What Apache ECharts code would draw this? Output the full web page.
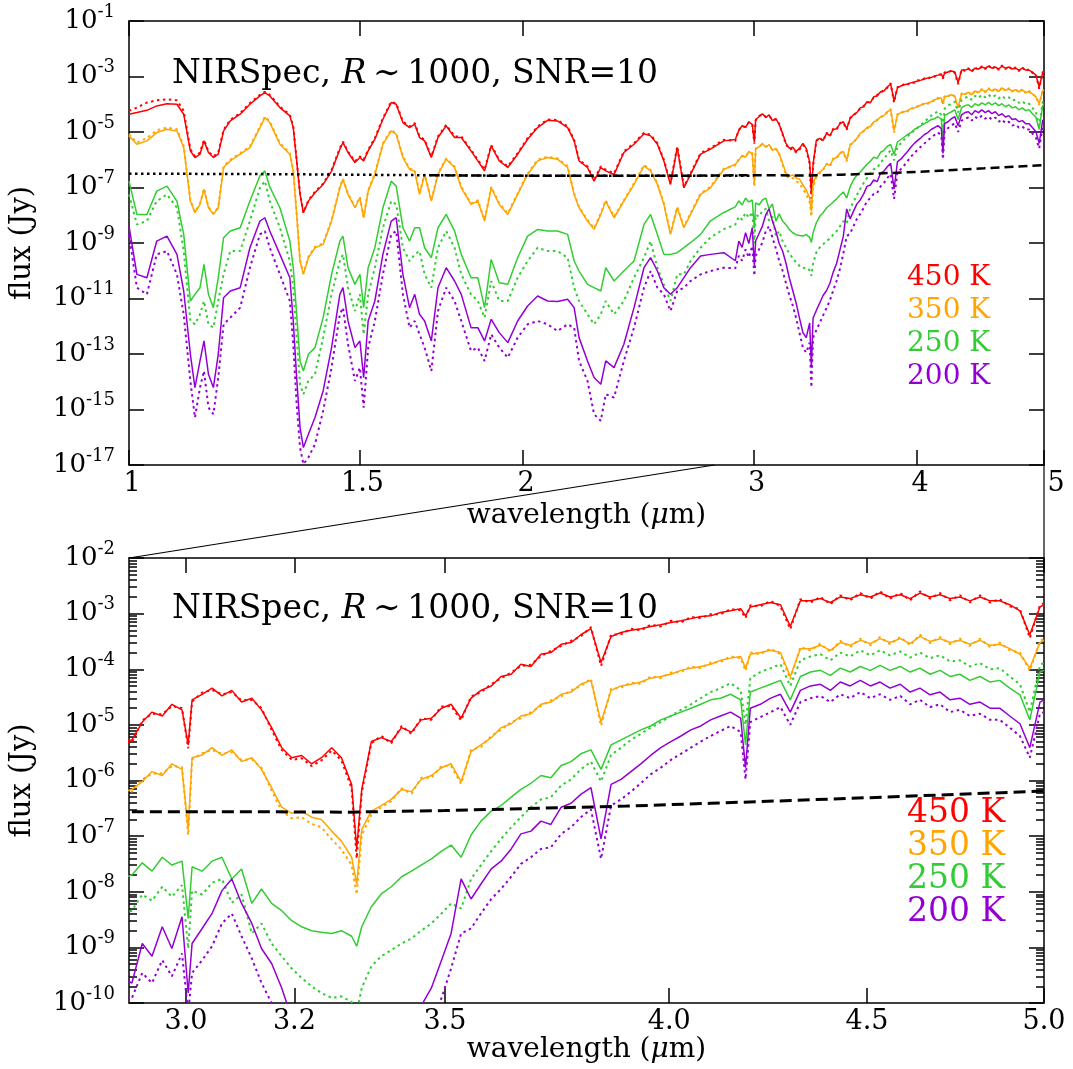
<!DOCTYPE html>
<html><head><meta charset="utf-8">
<script src="https://cdn.jsdelivr.net/npm/echarts@6/dist/echarts.min.js"></script>
<style>html,body{margin:0;padding:0;background:#fff}#c{width:1073px;height:1069px}</style>
</head><body><div id="c"></div>
<script>
// ---------------- DATA (flux stored as log10 Jy) ----------------
const wavelength = [
 1.000,1.014,1.032,1.050,1.069,1.088,1.101,1.114,1.123,1.133,1.141,1.150,1.160,1.170,1.181,1.195,1.216,1.237,1.259,1.270,1.281,1.304,1.327,1.335,1.343,1.351,1.359,1.371,1.387,1.407,1.428,1.449,1.457,1.470,1.488,1.501,1.511,1.523,1.541,1.563,1.586,1.600,1.619,1.638,1.653,1.667,1.682,1.702,1.722,1.747,1.773,
 1.794,1.825,1.847,1.869,1.891,1.918,1.947,1.981,2.016,2.052,2.088,2.125,2.163,2.188,2.207,2.240,2.266,2.293,2.313,2.347,2.388,2.431,2.474,2.503,2.533,2.562,2.592,2.623,2.654,2.685,2.733,2.781,2.847,
 2.905,2.923,2.940,2.958,2.975,2.993,3.004,3.011,3.029,3.047,3.065,3.083,3.101,3.120,3.138,3.157,3.176,3.195,3.214,3.233,3.252,3.272,3.291,3.311,3.321,3.331,3.350,3.370,3.390,3.411,3.431,3.451,3.472,3.493,3.513,3.534,3.555,3.576,3.598,3.619,3.641,3.662,3.684,3.706,3.728,3.751,3.773,3.795,3.818,3.841,3.864,3.887,3.910,3.933,3.956,3.980,4.004,4.028,4.052,4.076,4.100,4.124,4.149,4.174,4.186,4.198,4.223,4.249,4.274,4.299,4.325,4.351,4.377,4.403,4.429,4.455,4.482,4.509,4.535,4.562,4.590,4.617,4.644,4.672,4.700,4.728,4.756,4.784,4.813,4.842,4.870,4.899,4.929,4.958,4.988,5.000
];
// 450 K
const f450 = [
 -4.36,-4.30,-4.22,-4.06,-3.98,-4.00,-4.36,-5.68,-5.92,-5.80,-5.32,-5.74,-5.92,-5.80,-4.96,-4.60,-4.36,-4.00,-3.70,-3.58,-3.70,-4.12,-4.42,-4.84,-6.04,-7.25,-7.91,-7.49,-7.19,-6.89,-6.41,-5.62,-5.38,-5.74,-6.10,-5.92,-6.04,-5.68,-5.26,-4.54,-3.94,-4.00,-4.66,-4.84,-4.72,-5.20,-5.32,-5.92,-5.20,-4.78,-5.20,
 -5.20,-5.68,-6.04,-6.40,-5.50,-6.04,-6.28,-5.80,-5.26,-4.84,-4.58,-4.60,-4.84,-5.32,-6.04,-6.28,-6.77,-6.28,-6.40,-6.53,-5.74,-5.44,-5.06,-5.14,-5.44,-6.04,-6.89,-5.56,-7.01,-6.53,-5.80,-5.62,-5.32,
 -5.27,-4.95,-4.77,-4.84,-4.63,-4.73,-5.36,-4.55,-4.45,-4.34,-4.48,-4.38,-4.59,-4.52,-4.73,-5.05,-5.41,-5.59,-5.55,-5.70,
 -5.59,-5.41,-5.59,-6.07,-7.23,-6.16,-5.30,-5.23,-5.30,-5.05,-5.13,-4.91,-4.88,-4.70,-4.63,-4.88,-4.52,-4.38,-4.30,-4.13,
 -4.09,-3.91,-3.95,-3.73,-3.70,-3.55,-3.52,-3.38,-3.27,-3.88,-3.41,-3.34,-3.30,-3.27,-3.23,-3.20,-3.16,-3.13,-3.09,-3.05,
 -3.04,-2.98,-2.95,-2.91,-3.04,-2.88,-2.84,-2.80,-2.84,-3.23,-2.77,-2.77,-2.73,-2.80,-2.70,-2.73,-2.66,-2.70,-2.63,-2.70,
 -2.66,-2.73,-2.63,-2.70,-2.66,-2.73,-2.70,-2.77,-2.70,-2.77,-2.77,-2.84,-2.95,-3.38,-2.88,-2.84
];
const f450dot = [
 -4.24,-4.12,-3.94,-3.86,-3.82,-3.86,-4.24,-5.62,-5.88,-5.74,-5.28,-5.70,-5.88,-5.74,-4.92,-4.56,-4.32,-3.96,-3.66,-3.55,-3.66,-4.08,-4.38,-4.80,-6.00,-7.22,-7.90,-7.46,-7.15,-6.86,-6.37,-5.58,-5.35,-5.70,-6.06,-5.88,-6.00,-5.64,-5.22,-4.50,-3.91,-3.97,-4.62,-4.80,-4.68,-5.16,-5.28,-5.88,-5.16,-4.74,-5.16,
 -5.16,-5.64,-6.00,-6.36,-5.47,-6.00,-6.24,-5.76,-5.22,-4.80,-4.55,-4.57,-4.80,-5.28,-6.00,-6.24,-6.73,-6.24,-6.36,-6.49,-5.70,-5.40,-5.03,-5.10,-5.40,-6.00,-6.85,-5.52,-6.97,-6.49,-5.76,-5.58,-5.28,
 -5.32,-4.92,-4.80,-4.81,-4.66,-4.70,-5.42,-4.58,-4.42,-4.37,-4.45,-4.41,-4.56,-4.55,-4.70,-5.09,-5.45,-5.63,-5.60,-5.74,
 -5.64,-5.46,-5.64,-6.14,-7.40,-6.22,-5.33,-5.20,-5.33,-5.02,-5.16,-4.88,-4.91,-4.67,-4.66,-4.92,-4.49,-4.41,-4.27,-4.16,
 -4.06,-3.94,-3.92,-3.76,-3.67,-3.58,-3.49,-3.41,-3.24,-3.94,-3.38,-3.37,-3.27,-3.30,-3.20,-3.23,-3.13,-3.16,-3.06,-3.08,
 -3.01,-3.01,-2.92,-2.94,-3.08,-2.85,-2.87,-2.77,-2.87,-3.28,-2.74,-2.80,-2.70,-2.83,-2.67,-2.76,-2.63,-2.73,-2.60,-2.73,
 -2.63,-2.76,-2.60,-2.73,-2.63,-2.76,-2.67,-2.80,-2.67,-2.80,-2.74,-2.87,-2.92,-3.44,-2.85,-2.81
];
// 350 K
const f350 = [
 -5.14,-5.44,-5.32,-5.02,-4.90,-4.96,-5.56,-7.49,-7.91,-7.61,-7.07,-7.73,-7.97,-7.73,-6.28,-6.04,-5.80,-5.56,-4.84,-4.48,-4.66,-5.44,-5.80,-6.41,-7.97,-9.65,-10.13,-9.53,-9.17,-9.05,-8.21,-7.01,-6.71,-7.25,-7.73,-7.37,-8.09,-7.13,-6.53,-5.44,-4.96,-5.08,-5.92,-6.35,-6.41,-7.25,-6.53,-7.49,-6.53,-5.98,-6.28,
 -7.01,-7.61,-7.49,-8.21,-7.01,-7.61,-7.97,-7.25,-6.53,-6.04,-5.92,-5.98,-6.28,-7.25,-7.73,-8.21,-8.51,-7.97,-7.49,-8.09,-7.49,-6.89,-6.22,-6.40,-6.89,-7.61,-8.69,-7.73,-8.45,-7.97,-7.25,-7.01,-6.35,
 -6.16,-6.02,-5.84,-5.91,-5.70,-5.80,-6.88,-5.59,-5.54,-5.41,-5.55,-5.45,-5.66,-5.59,-5.80,-6.13,-6.48,-6.59,-6.55,-6.66,
 -6.70,-6.91,-7.09,-7.38,-7.86,-6.88,-6.55,-6.45,-6.34,-6.16,-6.20,-5.98,-5.91,-5.77,-5.70,-6.02,-5.48,-5.36,-5.23,-5.05,
 -4.98,-4.84,-4.80,-4.63,-4.59,-4.45,-4.41,-4.27,-4.20,-4.95,-4.38,-4.30,-4.27,-4.23,-4.16,-4.13,-4.09,-4.02,-3.98,-3.95,
 -3.91,-3.84,-3.80,-3.77,-3.98,-3.73,-3.70,-3.66,-3.70,-4.13,-3.63,-3.63,-3.57,-3.66,-3.52,-3.57,-3.48,-3.54,-3.45,-3.52,
 -3.45,-3.54,-3.41,-3.50,-3.45,-3.52,-3.48,-3.55,-3.48,-3.57,-3.55,-3.63,-3.73,-3.98,-3.52,-3.48
];
const f350dot = [
 -5.08,-5.38,-5.22,-4.94,-4.84,-4.90,-5.50,-7.45,-7.88,-7.58,-7.03,-7.70,-7.94,-7.70,-6.24,-6.00,-5.76,-5.52,-4.80,-4.45,-4.62,-5.40,-5.76,-6.37,-7.94,-9.62,-10.10,-9.50,-9.14,-9.02,-8.18,-6.98,-6.68,-7.22,-7.70,-7.34,-8.06,-7.10,-6.50,-5.41,-4.93,-5.05,-5.88,-6.32,-6.38,-7.22,-6.50,-7.46,-6.50,-5.95,-6.25,
 -6.97,-7.57,-7.46,-8.17,-6.98,-7.57,-7.93,-7.21,-6.50,-6.00,-5.89,-5.95,-6.24,-7.21,-7.70,-8.17,-8.47,-7.93,-7.46,-8.05,-7.46,-6.85,-6.19,-6.37,-6.85,-7.57,-8.65,-7.70,-8.41,-7.93,-7.21,-6.97,-6.32,
 -6.20,-5.98,-5.88,-5.87,-5.74,-5.76,-6.98,-5.62,-5.51,-5.45,-5.52,-5.49,-5.63,-5.62,-5.77,-6.18,-6.55,-6.68,-6.66,-6.78,
 -6.84,-7.06,-7.24,-7.52,-8.05,-6.98,-6.62,-6.48,-6.37,-6.14,-6.24,-5.95,-5.95,-5.74,-5.74,-6.06,-5.45,-5.40,-5.20,-5.09,
 -4.95,-4.88,-4.77,-4.66,-4.56,-4.49,-4.38,-4.30,-4.17,-5.02,-4.35,-4.33,-4.24,-4.26,-4.13,-4.16,-4.06,-4.05,-3.95,-3.98,
 -3.88,-3.87,-3.77,-3.80,-4.03,-3.70,-3.73,-3.63,-3.73,-4.18,-3.60,-3.66,-3.54,-3.69,-3.49,-3.60,-3.45,-3.57,-3.42,-3.55,
 -3.42,-3.57,-3.38,-3.53,-3.42,-3.55,-3.45,-3.58,-3.45,-3.60,-3.52,-3.66,-3.70,-4.03,-3.49,-3.45
];
// 250 K
const f250 = [
 -6.77,-7.97,-7.97,-7.13,-6.95,-7.49,-8.69,-11.09,-10.85,-10.61,-9.77,-10.85,-11.33,-10.25,-8.81,-8.57,-8.45,-7.49,-6.58,-6.40,-6.98,-7.73,-8.93,-9.89,-11.57,-13.25,-13.61,-13.01,-12.77,-11.69,-10.13,-8.93,-8.75,-9.89,-10.49,-10.13,-11.33,-9.89,-9.17,-7.73,-6.77,-6.95,-8.45,-8.93,-8.45,-8.45,-9.17,-9.53,-8.45,-7.97,-8.57,
 -9.41,-10.25,-10.25,-11.33,-9.59,-10.43,-10.49,-9.53,-8.75,-8.51,-8.57,-8.57,-8.69,-9.65,-10.01,-10.49,-10.61,-10.73,-9.89,-10.37,-10.01,-9.65,-8.33,-7.97,-8.69,-9.41,-9.41,-9.35,-9.17,-8.99,-8.69,-8.20,-7.90,
 -7.70,-7.48,-7.63,-7.38,-7.52,-7.45,-8.48,-7.55,-7.63,-7.45,-7.38,-7.77,-7.59,-8.21,-7.95,-8.21,-8.34,-8.52,-8.63,-8.70,
 -8.73,-8.75,-8.70,-8.80,-8.98,-8.63,-8.27,-8.04,-7.91,-7.73,-7.63,-7.52,-7.41,-7.27,-7.16,-7.38,-6.98,-6.73,-6.55,-6.45,
 -6.30,-6.16,-6.05,-5.91,-5.95,-5.73,-5.66,-5.52,-5.45,-5.80,-5.36,-5.27,-5.18,-5.09,-5.02,-4.91,-4.84,-4.77,-4.70,-4.63,
 -4.55,-4.52,-4.45,-4.55,-5.36,-4.41,-4.34,-4.27,-4.20,-4.55,-4.13,-4.05,-4.02,-4.11,-3.98,-4.05,-3.95,-4.02,-3.93,-4.02,
 -3.95,-4.05,-3.98,-4.09,-4.02,-4.13,-4.09,-4.20,-4.13,-4.23,-4.20,-4.34,-4.46,-4.91,-4.05,-4.02
];
const f250dot = [
 -7.25,-8.33,-8.21,-7.49,-7.25,-7.73,-9.29,-11.81,-11.93,-11.57,-11.09,-11.93,-12.05,-11.09,-10.13,-9.29,-9.29,-8.21,-7.01,-6.77,-7.49,-8.45,-9.65,-10.61,-12.41,-14.09,-14.45,-13.97,-13.73,-12.41,-10.85,-9.65,-9.41,-10.61,-11.45,-10.85,-12.29,-10.85,-9.89,-8.45,-7.49,-7.61,-9.17,-9.65,-9.41,-9.29,-10.13,-10.61,-9.17,-8.57,-9.17,
 -10.13,-10.85,-11.09,-11.69,-10.37,-11.09,-11.09,-10.25,-9.65,-9.17,-9.29,-9.29,-9.53,-10.61,-11.09,-11.57,-11.93,-11.57,-11.09,-11.57,-11.09,-10.25,-9.53,-8.93,-9.89,-10.49,-11.09,-10.13,-10.13,-9.65,-9.17,-8.80,-8.50,
 -8.34,-8.05,-8.16,-7.91,-8.09,-7.88,-9.02,-7.98,-8.05,-7.84,-7.77,-8.20,-8.05,-8.75,-8.57,-8.93,-9.16,-9.38,-9.55,-9.70,
 -9.82,-9.91,-9.88,-9.98,-10.18,-9.73,-9.34,-9.16,-9.05,-8.93,-8.84,-8.70,-8.57,-8.39,-8.21,-8.30,-7.77,-7.52,-7.27,-7.05,
 -6.84,-6.66,-6.48,-6.34,-6.30,-6.09,-5.98,-5.80,-5.66,-6.02,-5.54,-5.41,-5.27,-5.16,-5.05,-4.95,-4.84,-4.73,-4.63,-4.52,
 -4.41,-4.34,-4.25,-4.38,-5.00,-4.16,-4.05,-3.98,-3.91,-4.30,-3.84,-3.77,-3.73,-3.84,-3.70,-3.77,-3.66,-3.75,-3.66,-3.75,
 -3.68,-3.79,-3.70,-3.80,-3.75,-3.86,-3.84,-3.95,-3.89,-4.00,-3.98,-4.13,-4.27,-4.77,-3.93,-3.88
];
// 200 K
const f200 = [
 -8.39,-10.13,-10.25,-8.93,-8.75,-9.41,-10.73,-13.01,-14.21,-13.25,-12.53,-13.73,-14.21,-13.01,-10.97,-10.73,-10.61,-9.17,-8.21,-8.09,-8.57,-9.41,-10.25,-11.81,-13.85,-15.65,-16.37,-15.89,-15.29,-14.33,-12.77,-10.85,-10.61,-11.81,-12.77,-12.53,-13.85,-11.81,-11.09,-9.41,-8.21,-8.09,-10.13,-11.33,-10.85,-11.57,-11.81,-12.53,-10.61,-9.89,-10.37,
 -10.85,-12.05,-12.05,-12.53,-11.75,-12.23,-12.59,-11.81,-11.27,-10.91,-11.09,-11.11,-11.03,-11.33,-12.41,-13.25,-13.85,-14.09,-13.25,-13.49,-12.65,-11.33,-9.89,-9.53,-10.01,-10.61,-10.85,-10.61,-10.25,-9.89,-9.47,-9.41,-9.35,
 -9.64,-8.93,-9.16,-8.63,-9.02,-8.45,-9.82,-8.93,-8.66,-8.39,-7.98,-7.77,-8.21,-8.57,-9.02,-9.29,-9.73,-10.27,-10.71,-11.16,
 -11.70,-12.23,-12.41,-11.88,-13.48,-11.70,-11.43,-11.16,-10.89,-10.71,-10.45,-10.05,-9.73,-9.23,-8.75,-7.77,-8.13,-7.86,-7.59,-7.45,
 -7.23,-6.96,-6.91,-6.73,-6.79,-6.48,-6.41,-6.25,-6.13,-7.05,-6.07,-5.98,-5.84,-5.70,-5.55,-5.41,-5.30,-5.20,-5.09,-5.02,
 -4.91,-4.84,-4.77,-4.88,-5.77,-4.70,-4.63,-4.52,-4.45,-4.77,-4.38,-4.30,-4.27,-4.38,-4.23,-4.30,-4.20,-4.30,-4.23,-4.34,
 -4.27,-4.41,-4.34,-4.46,-4.41,-4.55,-4.52,-4.63,-4.59,-4.70,-4.70,-4.84,-4.98,-5.41,-4.59,-4.55
];
const f200dot = [
 -8.69,-10.61,-10.85,-9.41,-9.29,-10.13,-11.57,-13.97,-15.29,-14.21,-13.61,-14.93,-15.17,-13.85,-11.93,-11.69,-11.33,-9.89,-8.69,-8.57,-9.17,-10.13,-11.09,-12.65,-14.81,-16.37,-16.97,-16.73,-16.25,-15.05,-13.49,-11.57,-11.33,-12.65,-13.97,-13.49,-14.93,-12.77,-11.81,-10.13,-8.69,-8.57,-10.85,-12.05,-11.81,-12.29,-12.77,-13.61,-11.45,-10.61,-11.09,
 -11.81,-12.89,-12.77,-13.25,-12.29,-12.77,-13.13,-12.41,-11.93,-11.81,-11.93,-12.17,-11.93,-12.05,-13.25,-13.97,-15.17,-15.41,-14.45,-14.57,-13.25,-12.05,-10.61,-10.01,-10.61,-10.85,-11.45,-10.73,-10.61,-10.37,-10.13,-10.01,-9.89,
 -9.91,-9.46,-9.64,-9.23,-9.52,-9.11,-10.18,-9.46,-9.23,-8.98,-8.57,-8.39,-8.80,-9.20,-9.64,-10.00,-10.45,-10.89,-11.25,-11.70,
 -12.23,-12.77,-12.95,-12.59,-14.20,-12.41,-12.14,-11.88,-11.61,-11.34,-11.07,-10.71,-10.36,-9.91,-9.38,-8.75,-8.66,-8.39,-8.13,-7.95,
 -7.73,-7.50,-7.38,-7.23,-7.20,-6.96,-6.84,-6.66,-6.52,-7.41,-6.45,-6.34,-6.20,-6.05,-5.89,-5.77,-5.63,-5.52,-5.41,-5.30,
 -5.20,-5.11,-5.02,-5.13,-5.98,-4.95,-4.86,-4.77,-4.68,-5.00,-4.59,-4.52,-4.48,-4.59,-4.45,-4.52,-4.41,-4.52,-4.45,-4.55,
 -4.48,-4.63,-4.55,-4.68,-4.63,-4.77,-4.73,-4.84,-4.80,-4.91,-4.91,-5.05,-5.20,-5.59,-4.80,-4.77
];
// noise level (SNR=10 limit)
const noiseDotWl = [1.0, 1.3, 1.6, 1.9, 2.2, 2.5, 2.8, 3.0];
const noiseDot   = [-6.50, -6.52, -6.55, -6.57, -6.58, -6.58, -6.58, -6.58];
const noiseDashWl = [1.7, 2.0, 2.3, 2.6, 2.9, 3.1, 3.3, 3.5, 3.7, 3.9, 4.1, 4.3, 4.5, 4.7, 5.0];
const noiseDash   = [-6.56, -6.58, -6.58, -6.58, -6.56, -6.56, -6.57, -6.54, -6.50, -6.46, -6.41, -6.36, -6.31, -6.26, -6.19];

const TEMP_LABELS = ['450 K', '350 K', '250 K', '200 K'];
const TEMP_COLORS = ['#ff0000', '#ffa500', '#32cd32', '#9400d3'];

const TOP_X_TICKS = [1, 1.5, 2, 3, 4, 5];
const TOP_X_LABELS = ['1', '1.5', '2', '3', '4', '5'];
const BOT_X_TICKS = [3.0, 3.2, 3.5, 4.0, 4.5, 5.0];
const BOT_X_LABELS = ['3.0', '3.2', '3.5', '4.0', '4.5', '5.0'];
const TOP_Y_EXP = [-17, -15, -13, -11, -9, -7, -5, -3, -1];
const BOT_Y_EXP = [-10, -9, -8, -7, -6, -5, -4, -3, -2];
const TOP_WL_RANGE = [1, 5];
const BOT_WL_RANGE = [2.9, 5];
const LINK_WL = 2.8;
const TITLE_PARTS = ['NIRSpec, ', 'R', '\u2009\u223C\u20091000, SNR=10'];

// ---------------- CHART ----------------
const FONT = 'DejaVu Serif';
const chart = echarts.init(document.getElementById('c'), null, {renderer: 'canvas'});
const lg = Math.log10;
const series4 = [f450, f350, f250, f200];
const series4dot = [f450dot, f350dot, f250dot, f200dot];
function pts(wl, arr) { return wl.map((w, i) => [lg(w), arr[i]]); }

const minorBot = [];
for (let e = -10; e < -2; e++) for (let k = 2; k <= 9; k++) minorBot.push(e + lg(k));

const frame = {color: '#000', width: 1.5};
function xAx(grid, pos, ticks, labels, range, labelOn, fs, rich) {
  return {
    type: 'value', gridIndex: grid, position: pos, min: lg(range[0]), max: lg(range[1]),
    axisLine: {show: true, onZero: false, lineStyle: frame},
    axisTick: {show: true, inside: true, length: 15, lineStyle: frame, customValues: ticks.map(lg)},
    axisLabel: {show: labelOn, margin: 5, color: '#000', fontFamily: FONT, fontSize: fs,
      customValues: ticks.map(lg),
      formatter: v => { const i = ticks.findIndex(t => Math.abs(lg(t) - v) < 1e-6); return rich(i, labels[i]); },
      rich: {n: {fontFamily: FONT, fontSize: fs, color: '#000', padding: [0, 0, 0, 6]},
             r: {fontFamily: FONT, fontSize: fs, color: '#000', padding: [0, 0, 0, 24]},
             c: {fontFamily: FONT, fontSize: fs, color: '#000'}}},
    splitLine: {show: false}
  };
}
function yAx(grid, pos, exps, range, labelOn, len, showLine) {
  return {
    type: 'value', gridIndex: grid, position: pos, min: range[0], max: range[1],
    axisLine: {show: showLine, onZero: false, lineStyle: frame},
    axisTick: {show: true, inside: true, length: len, lineStyle: frame, customValues: exps},
    axisLabel: {show: labelOn, margin: 14, color: '#000', customValues: exps,
      formatter: v => '{b|10}{s|' + Math.round(v) + '}',
      rich: {b: {fontFamily: FONT, fontSize: 26, color: '#000'},
             s: {fontFamily: FONT, fontSize: 18, color: '#000', padding: [0, 0, 18, 0]}}},
    splitLine: {show: false}
  };
}
const xName = (gap) => ({
  name: '{n|wavelength (}{i|\u03BC}{n|m)}', nameLocation: 'middle', nameGap: gap,
  nameTextStyle: {rich: {n: {fontFamily: FONT, fontSize: 28, color: '#000'},
                          i: {fontFamily: FONT, fontSize: 28, color: '#000', fontStyle: 'italic'}}}
});
const yName = {name: 'flux (Jy)', nameLocation: 'middle', nameRotate: 90, nameGap: 92,
  nameTextStyle: {fontFamily: FONT, fontSize: 29, color: '#000'}};

const xAxes = [
  Object.assign(xAx(0, 'bottom', TOP_X_TICKS, TOP_X_LABELS, TOP_WL_RANGE, true, 27,
     (i, s) => i === TOP_X_TICKS.length - 1 ? '{r|' + s + '}' : '{n|' + s + '}'), xName(37)),
  xAx(0, 'top', TOP_X_TICKS, TOP_X_LABELS, TOP_WL_RANGE, false, 27, (i, s) => s),
  Object.assign(xAx(1, 'bottom', BOT_X_TICKS, BOT_X_LABELS, BOT_WL_RANGE, true, 27,
     (i, s) => '{c|' + s + '}'), xName(31)),
  xAx(1, 'top', BOT_X_TICKS, BOT_X_LABELS, BOT_WL_RANGE, false, 27, (i, s) => s)
];
const yAxes = [
  Object.assign(yAx(0, 'left', TOP_Y_EXP, [-17, -1], true, 15, true), yName),
  yAx(0, 'right', TOP_Y_EXP, [-17, -1], false, 15, true),
  Object.assign(yAx(1, 'left', BOT_Y_EXP, [-10, -2], true, 15, true), yName),
  yAx(1, 'right', BOT_Y_EXP, [-10, -2], false, 15, true),
  yAx(1, 'left', minorBot, [-10, -2], false, 8, false),
  yAx(1, 'right', minorBot, [-10, -2], false, 8, false)
];

const series = [];
[[0, 0], [2, 2]].forEach(([xi, yi]) => {
  for (let t = 0; t < 4; t++) {
    series.push({type: 'line', xAxisIndex: xi, yAxisIndex: yi, showSymbol: false, symbol: 'none',
      data: pts(wavelength, series4[t]), lineStyle: {color: TEMP_COLORS[t], width: 1.5}, silent: true, z: 2});
    series.push({type: 'line', xAxisIndex: xi, yAxisIndex: yi, showSymbol: false, symbol: 'none',
      data: pts(wavelength, series4dot[t]), lineStyle: {color: TEMP_COLORS[t], width: 2, type: [2.5, 3.5]}, silent: true, z: 2});
  }
});
series.push({type: 'line', xAxisIndex: 0, yAxisIndex: 0, showSymbol: false, symbol: 'none',
  data: pts(noiseDotWl, noiseDot), lineStyle: {color: '#000', width: 2.5, type: [2.5, 3.5]}, z: 3});
series.push({type: 'line', xAxisIndex: 0, yAxisIndex: 0, showSymbol: false, symbol: 'none',
  data: pts(noiseDashWl, noiseDash), lineStyle: {color: '#000', width: 2.5, type: [9, 5]}, z: 3});
series.push({type: 'line', xAxisIndex: 2, yAxisIndex: 2, showSymbol: false, symbol: 'none',
  data: pts(noiseDashWl, noiseDash), lineStyle: {color: '#000', width: 3, type: [12, 6]}, z: 3});

const titleText = '{a|' + TITLE_PARTS[0] + '}{i|' + TITLE_PARTS[1] + '}{a|' + TITLE_PARTS[2] + '}';
const titleRich = {a: {fontFamily: FONT, fontSize: 33, fontWeight: 'normal', color: '#000', lineHeight: 40},
                   i: {fontFamily: FONT, fontSize: 33, fontWeight: 'normal', color: '#000', fontStyle: 'italic', lineHeight: 40}};

chart.setOption({
  animation: false,
  backgroundColor: '#fff',
  grid: [{left: 127, top: 21, width: 917, height: 444}, {left: 127, top: 558, width: 917, height: 445}],
  title: [
    {text: titleText, left: 172, top: 54, padding: 0, textStyle: {fontWeight: 'normal', rich: titleRich}},
    {text: titleText, left: 172, top: 589, padding: 0, textStyle: {fontWeight: 'normal', rich: titleRich}}
  ],
  xAxis: xAxes,
  yAxis: yAxes,
  series: series
});

// legend-like labels and zoom connector lines
const g = [];
TEMP_LABELS.forEach((s, i) => {
  g.push({type: 'text', x: 907, y: 278 + i * 33, style: {text: s, fill: TEMP_COLORS[i], font: '28px "DejaVu Serif"', align: 'left', verticalAlign: 'middle'}});
  g.push({type: 'text', x: 907, y: 813 + i * 33.3, style: {text: s, fill: TEMP_COLORS[i], font: '33px "DejaVu Serif"', align: 'left', verticalAlign: 'middle'}});
});
const pTopL = chart.convertToPixel({xAxisIndex: 0, yAxisIndex: 0}, [lg(LINK_WL), -17]);
const pTopR = chart.convertToPixel({xAxisIndex: 0, yAxisIndex: 0}, [lg(TOP_WL_RANGE[1]), -17]);
const pBotL = chart.convertToPixel({xAxisIndex: 2, yAxisIndex: 2}, [lg(BOT_WL_RANGE[0]), -2]);
const pBotR = chart.convertToPixel({xAxisIndex: 2, yAxisIndex: 2}, [lg(BOT_WL_RANGE[1]), -2]);
g.push({type: 'line', shape: {x1: pBotL[0], y1: pBotL[1], x2: pTopL[0], y2: pTopL[1]}, style: {stroke: '#000', lineWidth: 1.2}});
g.push({type: 'line', shape: {x1: pBotR[0], y1: pBotR[1], x2: pTopR[0], y2: pTopR[1]}, style: {stroke: '#000', lineWidth: 1.2}});
chart.setOption({graphic: g});
</script></body></html>
